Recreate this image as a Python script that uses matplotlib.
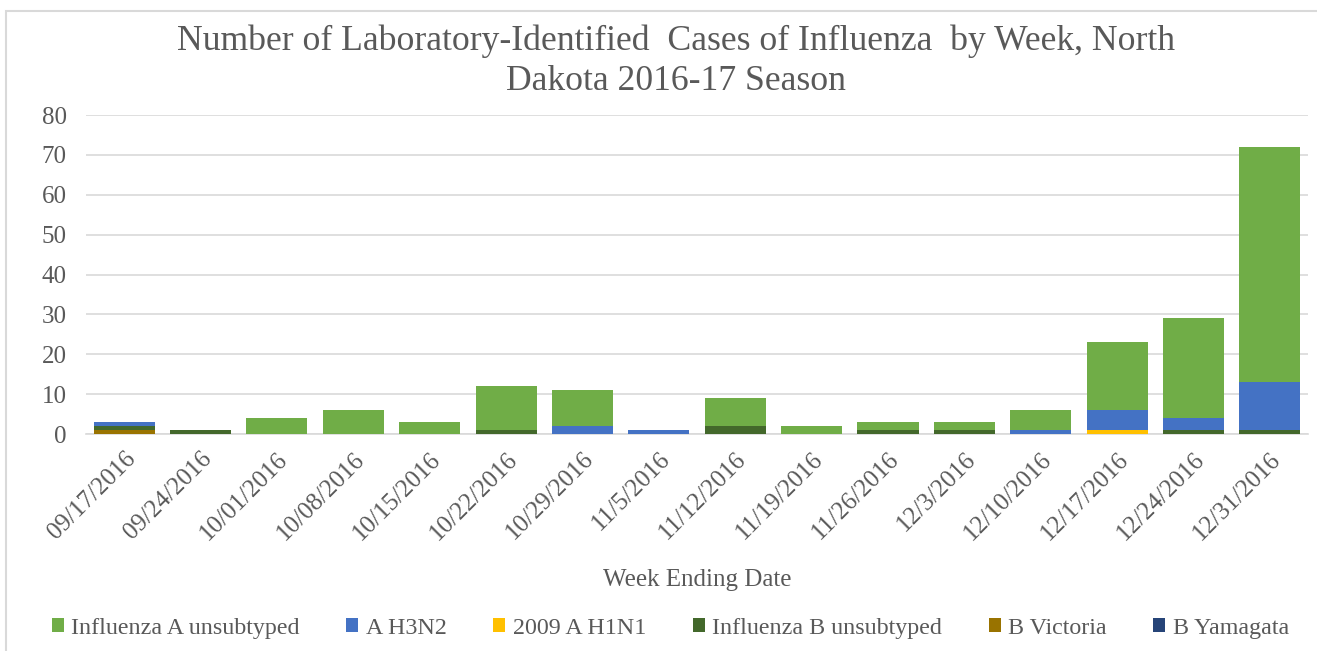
import numpy as np
import matplotlib.pyplot as plt
from matplotlib.patches import Patch, Rectangle

plt.rcParams["font.family"] = ["Liberation Serif", "DejaVu Serif"]

# ============================
# Dados
# ============================
weeks = ["09/17/2016", "09/24/2016", "10/01/2016", "10/08/2016", "10/15/2016",
         "10/22/2016", "10/29/2016", "11/5/2016", "11/12/2016", "11/19/2016",
         "11/26/2016", "12/3/2016", "12/10/2016", "12/17/2016", "12/24/2016",
         "12/31/2016"]

flu_a_unsub = [0, 0, 4, 6, 3, 11, 9, 0, 7, 2, 2, 2, 5, 17, 25, 59]
a_h3n2      = [1, 0, 0, 0, 0, 0, 2, 1, 0, 0, 0, 0, 1, 5, 3, 12]
h1n1_2009   = [0, 0, 0, 0, 0, 0, 0, 0, 0, 0, 0, 0, 0, 1, 0, 0]
flu_b_unsub = [1, 1, 0, 0, 0, 1, 0, 0, 2, 0, 1, 1, 0, 0, 1, 1]
b_victoria  = [1, 0, 0, 0, 0, 0, 0, 0, 0, 0, 0, 0, 0, 0, 0, 0]
b_yamagata  = [0, 0, 0, 0, 0, 0, 0, 0, 0, 0, 0, 0, 0, 0, 0, 0]

# ordem da legenda (Excel empilha na ordem inversa)
series = [
    ("Influenza A unsubtyped", flu_a_unsub, "#70AD47"),
    ("A H3N2", a_h3n2, "#4472C4"),
    ("2009 A H1N1", h1n1_2009, "#FFC000"),
    ("Influenza B unsubtyped", flu_b_unsub, "#43682B"),
    ("B Victoria", b_victoria, "#997300"),
    ("B Yamagata", b_yamagata, "#264478"),
]

txt = "#595959"

# ============================
# Gráfico
# ============================
fig = plt.figure(figsize=(13.17, 6.51), dpi=100)
fig.patches.append(Rectangle((6 / 1317, -0.1), 1.2, 1 - 11 / 651 + 0.1,
                             transform=fig.transFigure, fill=False,
                             edgecolor="#D9D9D9", linewidth=1.5))
ax = fig.add_axes([0.0653, 0.3333, 0.9279, 0.49])

x = np.arange(len(weeks))
bottom = np.zeros(len(weeks))
for name, vals, color in reversed(series):
    v = np.array(vals, dtype=float)
    ax.bar(x, v, bottom=bottom, width=0.8, color=color, zorder=3)
    bottom += v

ax.set_xlim(-0.5, len(weeks) - 0.5)
ax.set_ylim(0, 80)
ax.set_yticks(range(0, 81, 10))
ax.yaxis.grid(True, color="#D9D9D9", linewidth=1.2, zorder=0)
for s in ["top", "right", "left"]:
    ax.spines[s].set_visible(False)
ax.spines["bottom"].set_color("#D9D9D9")
ax.spines["bottom"].set_linewidth(1.2)
ax.tick_params(length=0, colors=txt, labelsize=18)
ax.tick_params(axis="y", pad=14)
ax.set_xticks(x)
ax.set_xticklabels(weeks, rotation=45, ha="right", rotation_mode="anchor")
ax.tick_params(axis="x", pad=10)

ax.set_xlabel("Week Ending Date", fontsize=18, color=txt, labelpad=18)
fig.text(0.513, 0.906,
         "Number of Laboratory-Identified  Cases of Influenza  by Week, North\nDakota 2016-17 Season",
         ha="center", va="center", fontsize=25.7, color=txt, linespacing=1.25)

handles = [Patch(facecolor=c, label=n) for n, _, c in series]
fig.legend(handles=handles, loc="center", bbox_to_anchor=(0.509, 0.035), ncol=6,
           frameon=False, fontsize=17.3, labelcolor=txt, handlelength=0.5,
           handleheight=0.5, handletextpad=0.3, columnspacing=1.95)

fig.savefig("out.png", dpi=100)
